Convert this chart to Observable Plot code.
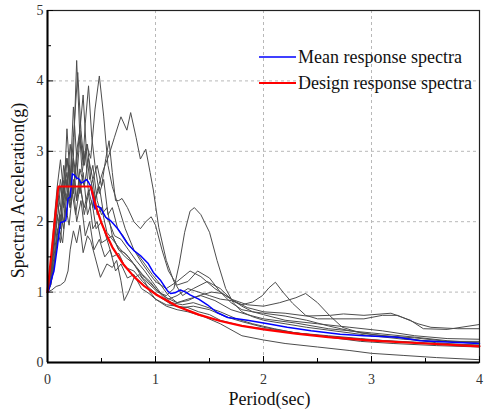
<!DOCTYPE html>
<html>
<head>
<meta charset="utf-8">
<script src="https://cdn.jsdelivr.net/npm/d3@7"></script>
<script src="https://cdn.jsdelivr.net/npm/@observablehq/plot@0.6"></script>
<style>
  body { margin: 0; background: #fff; }
  #wrap { position: relative; width: 484px; height: 411px; font-family: "Liberation Serif", "Times New Roman", serif; }
  .leg { position: absolute; left: 259px; height: 26px; display: flex; align-items: center; font-size: 18px; color: #111; white-space: nowrap; }
  .leg svg { margin-right: 2px; }
</style>
</head>
<body>
<div id="wrap"></div>
<script>
// Ground-motion records: [period (s), spectral acceleration (g)]
const rec1 = [[0,1.0],[0.03,1.3],[0.06,1.9],[0.09,2.4],[0.12,2.2],[0.15,2.8],[0.18,2.5],[0.21,3.1],[0.235,2.7],[0.27,4.29],[0.3,3.2],[0.32,2.7],[0.35,3.0],[0.38,2.4],[0.42,2.6],[0.46,2.1],[0.5,2.2],[0.55,1.85],[0.6,1.75],[0.68,1.6],[0.75,1.5],[0.82,1.35],[0.9,1.2],[1.0,1.05],[1.1,0.92],[1.2,0.85],[1.3,0.9],[1.42,0.95],[1.55,0.88],[1.7,0.75],[1.85,0.68],[2.0,0.62],[2.3,0.56],[2.6,0.48],[3.0,0.42],[3.4,0.36],[3.7,0.31],[4.0,0.28]];
const rec2 = [[0,1.0],[0.03,1.15],[0.06,1.6],[0.09,2.1],[0.12,1.9],[0.15,2.5],[0.18,2.3],[0.2,2.8],[0.23,2.4],[0.26,2.7],[0.3,3.3],[0.33,2.8],[0.36,3.1],[0.4,2.9],[0.44,3.6],[0.48,4.07],[0.52,3.5],[0.56,2.8],[0.6,2.5],[0.66,2.2],[0.72,1.9],[0.8,1.6],[0.88,1.4],[0.95,1.25],[1.0,1.15],[1.1,1.05],[1.2,1.15],[1.32,1.3],[1.42,1.22],[1.55,1.05],[1.7,0.9],[1.85,0.82],[2.0,0.8],[2.15,0.85],[2.3,0.92],[2.39,0.98],[2.5,0.85],[2.61,0.67],[2.73,0.5],[2.9,0.42],[3.1,0.38],[3.4,0.35],[3.7,0.3],[4.0,0.27]];
const rec3 = [[0,1.0],[0.04,1.2],[0.08,1.6],[0.11,1.9],[0.14,1.7],[0.17,2.2],[0.2,1.95],[0.23,2.4],[0.26,2.1],[0.3,2.5],[0.34,2.2],[0.38,2.45],[0.42,2.2],[0.47,2.5],[0.52,2.75],[0.57,2.95],[0.62,3.2],[0.68,3.49],[0.735,3.3],[0.77,3.55],[0.82,3.2],[0.86,2.89],[0.91,3.03],[0.95,2.7],[0.98,2.45],[1.03,1.92],[1.1,1.45],[1.17,1.15],[1.25,0.95],[1.35,1.05],[1.48,1.15],[1.6,1.05],[1.7,0.9],[1.8,0.8],[1.9,0.72],[2.0,0.68],[2.2,0.6],[2.5,0.55],[2.8,0.5],[3.1,0.45],[3.4,0.38],[3.7,0.34],[4.0,0.33]];
const rec4 = [[0,1.0],[0.03,1.1],[0.06,1.35],[0.09,1.8],[0.12,2.1],[0.15,1.9],[0.18,2.4],[0.21,2.2],[0.24,2.6],[0.27,2.3],[0.3,2.75],[0.34,2.5],[0.38,2.9],[0.42,2.6],[0.46,2.8],[0.5,2.5],[0.54,2.9],[0.57,3.15],[0.6,2.7],[0.63,2.3],[0.66,2.3],[0.69,2.33],[0.74,2.2],[0.8,2.0],[0.86,1.9],[0.91,2.0],[0.96,2.07],[1.0,1.95],[1.06,1.6],[1.12,1.3],[1.2,1.1],[1.3,1.15],[1.39,1.3],[1.5,1.2],[1.6,1.0],[1.7,0.85],[1.8,0.75],[1.9,0.72],[2.0,0.7],[2.2,0.66],[2.4,0.6],[2.6,0.52],[2.8,0.45],[3.0,0.4],[3.3,0.35],[3.6,0.28],[4.0,0.24]];
const rec5 = [[0,1.0],[0.03,1.2],[0.06,1.7],[0.09,2.0],[0.12,2.5],[0.15,2.2],[0.18,2.9],[0.21,2.6],[0.24,3.63],[0.27,2.9],[0.3,2.4],[0.33,2.7],[0.37,2.1],[0.41,2.3],[0.45,1.9],[0.5,2.0],[0.55,1.75],[0.6,1.8],[0.66,1.6],[0.72,1.5],[0.8,1.4],[0.88,1.2],[0.95,1.1],[1.02,1.0],[1.1,0.95],[1.17,1.05],[1.22,1.4],[1.27,1.85],[1.32,2.15],[1.36,2.2],[1.42,2.1],[1.5,1.85],[1.57,1.45],[1.65,1.05],[1.72,0.85],[1.8,0.72],[1.9,0.65],[2.0,0.6],[2.2,0.55],[2.4,0.5],[2.7,0.44],[3.0,0.38],[3.3,0.33],[3.6,0.3],[4.0,0.3]];
const rec6 = [[0,1.0],[0.03,1.25],[0.06,1.75],[0.09,2.3],[0.12,2.0],[0.15,2.6],[0.18,2.9],[0.21,2.5],[0.24,3.2],[0.28,4.12],[0.31,3.3],[0.34,2.8],[0.37,3.1],[0.4,2.6],[0.44,2.3],[0.48,2.5],[0.52,2.1],[0.57,2.0],[0.62,1.8],[0.68,1.75],[0.75,1.6],[0.82,1.45],[0.9,1.3],[0.97,1.15],[1.05,0.98],[1.12,0.9],[1.2,0.95],[1.3,1.05],[1.4,1.0],[1.5,0.95],[1.6,0.9],[1.7,0.88],[1.8,0.82],[1.9,0.86],[1.99,0.95],[2.05,1.06],[2.11,1.14],[2.18,1.0],[2.27,0.84],[2.39,0.67],[2.5,0.62],[2.62,0.62],[2.93,0.62],[3.1,0.67],[3.24,0.67],[3.43,0.55],[3.55,0.5],[3.8,0.48],[4.0,0.48]];
const rec7 = [[0,1.0],[0.03,1.1],[0.06,1.4],[0.09,1.8],[0.12,2.2],[0.15,2.0],[0.18,2.6],[0.21,2.3],[0.24,2.9],[0.27,2.6],[0.3,3.2],[0.33,2.9],[0.35,3.4],[0.38,3.93],[0.41,3.2],[0.44,2.8],[0.48,2.4],[0.52,2.6],[0.56,2.1],[0.6,2.2],[0.65,1.9],[0.7,1.8],[0.76,1.65],[0.83,1.55],[0.9,1.4],[0.97,1.25],[1.05,1.1],[1.12,0.95],[1.2,0.85],[1.3,0.88],[1.4,0.95],[1.52,1.0],[1.62,0.98],[1.72,0.88],[1.85,0.78],[2.0,0.72],[2.2,0.7],[2.4,0.66],[2.62,0.67],[2.74,0.69],[2.93,0.67],[3.18,0.7],[3.36,0.6],[3.48,0.48],[3.7,0.47],[4.0,0.54]];
const rec8 = [[0,1.0],[0.03,1.15],[0.06,1.5],[0.09,1.9],[0.12,1.7],[0.15,2.3],[0.18,2.1],[0.21,2.7],[0.24,2.4],[0.27,3.0],[0.3,3.3],[0.33,3.8],[0.36,3.0],[0.39,2.6],[0.42,2.8],[0.46,2.3],[0.5,2.1],[0.55,2.2],[0.6,1.8],[0.66,1.6],[0.72,1.55],[0.8,1.4],[0.88,1.25],[0.95,1.15],[1.0,1.05],[1.08,0.92],[1.15,0.85],[1.25,0.82],[1.35,0.85],[1.45,0.8],[1.6,0.72],[1.75,0.62],[1.9,0.55],[2.1,0.48],[2.3,0.42],[2.6,0.38],[2.9,0.34],[3.2,0.3],[3.5,0.27],[3.8,0.25],[4.0,0.23]];
const rec9 = [[0,1.0],[0.03,1.4],[0.06,2.0],[0.09,2.5],[0.12,2.88],[0.15,2.4],[0.18,2.7],[0.21,2.2],[0.24,2.5],[0.27,2.0],[0.31,2.3],[0.35,1.8],[0.39,2.0],[0.43,1.6],[0.48,1.75],[0.53,1.5],[0.58,1.6],[0.63,1.3],[0.68,1.4],[0.74,1.2],[0.8,1.25],[0.87,1.05],[0.94,0.98],[1.0,0.9],[1.1,0.8],[1.2,0.75],[1.3,0.72],[1.45,0.65],[1.6,0.55],[1.8,0.38],[2.0,0.32],[2.2,0.27],[2.5,0.22],[2.8,0.17],[3.0,0.13],[3.3,0.1],[3.6,0.07],[4.0,0.04]];
const rec10 = [[0,1.0],[0.04,1.03],[0.08,1.08],[0.12,1.1],[0.16,1.15],[0.19,1.3],[0.21,1.6],[0.24,1.87],[0.27,1.7],[0.3,1.95],[0.33,1.56],[0.37,1.8],[0.4,1.73],[0.44,1.5],[0.49,1.21],[0.55,1.4],[0.6,1.35],[0.64,1.45],[0.68,1.16],[0.71,0.88],[0.75,1.0],[0.8,1.2],[0.85,1.25],[0.9,1.15],[0.95,1.0],[1.0,0.9],[1.1,0.82],[1.2,0.8],[1.3,0.78],[1.4,0.72],[1.5,0.68],[1.6,0.6],[1.8,0.52],[2.0,0.48],[2.3,0.42],[2.6,0.36],[2.9,0.3],[3.2,0.27],[3.6,0.24],[4.0,0.22]];
const rec11 = [[0,1.0],[0.03,1.3],[0.06,1.8],[0.09,2.2],[0.12,2.6],[0.15,2.3],[0.18,3.32],[0.21,2.6],[0.24,2.9],[0.27,2.3],[0.3,2.6],[0.34,2.1],[0.38,2.4],[0.42,1.9],[0.46,2.0],[0.5,1.7],[0.55,1.75],[0.6,1.5],[0.66,1.55],[0.72,1.35],[0.8,1.3],[0.88,1.15],[0.95,1.05],[1.05,0.92],[1.15,0.82],[1.25,0.78],[1.35,0.8],[1.5,0.75],[1.65,0.65],[1.8,0.58],[2.0,0.5],[2.3,0.42],[2.6,0.37],[3.0,0.32],[3.4,0.29],[3.7,0.26],[4.0,0.25]];

// Mean response spectrum
const meanSpectrum = [[0,1.0],[0.01,1.02],[0.04,1.2],[0.06,1.3],[0.09,1.63],[0.12,1.99],[0.15,2.0],[0.17,2.02],[0.19,2.33],[0.21,2.35],[0.23,2.68],[0.25,2.66],[0.27,2.62],[0.29,2.61],[0.31,2.55],[0.33,2.56],[0.36,2.6],[0.38,2.56],[0.4,2.5],[0.42,2.35],[0.44,2.18],[0.46,2.22],[0.49,2.2],[0.54,2.06],[0.58,2.02],[0.61,1.97],[0.65,1.9],[0.68,1.83],[0.74,1.69],[0.8,1.59],[0.86,1.52],[0.93,1.41],[0.98,1.28],[1.05,1.16],[1.11,1.02],[1.14,0.98],[1.18,0.99],[1.23,1.03],[1.28,1.0],[1.32,0.96],[1.4,0.9],[1.48,0.82],[1.57,0.71],[1.67,0.64],[1.85,0.6],[2.04,0.55],[2.22,0.5],[2.44,0.45],[2.71,0.4],[2.93,0.38],[3.24,0.36],[3.45,0.31],[3.7,0.29],[4.0,0.27]];

// Design response spectrum
const designSpectrum = [[0,1.0],[0.1,2.5],[0.4,2.5],[0.45,2.21],[0.5,1.98],[0.55,1.8],[0.6,1.64],[0.7,1.4],[0.8,1.22],[0.9,1.08],[1.0,0.97],[1.2,0.8],[1.4,0.68],[1.6,0.59],[1.8,0.52],[2.0,0.47],[2.3,0.41],[2.6,0.36],[3.0,0.31],[3.5,0.27],[4.0,0.23]];

const xTicks = [0, 1, 2, 3, 4];
const xMinorTicks = [0.5, 1.5, 2.5, 3.5];
const yTicks = [0, 1, 2, 3, 4, 5];
const yMinorTicks = [0.5, 1.5, 2.5, 3.5, 4.5];
const xGrid = [1, 2, 3];
const yGrid = [1, 2, 3, 4];

const records = [rec1, rec2, rec3, rec4, rec5, rec6, rec7, rec8, rec9, rec10, rec11];
const recordRows = records.flatMap((r, i) => r.map(([T, v]) => ({id: i, T, v})));
const toRows = arr => arr.map(([T, v]) => ({T, v}));

const font = "Liberation Serif";
const intFmt = d => String(d);
const chart = Plot.plot({
  width: 484,
  height: 411,
  marginLeft: 47,
  marginRight: 5,
  marginTop: 10,
  marginBottom: 49,
  style: {fontFamily: font, background: "#fff"},
  x: {domain: [0, 4]},
  y: {domain: [0, 5]},
  marks: [
    Plot.gridX(xGrid, {stroke: "#b8b8b8", strokeOpacity: 1, strokeDasharray: "3,3"}),
    Plot.gridY(yGrid, {stroke: "#b8b8b8", strokeOpacity: 1, strokeDasharray: "3,3"}),
    Plot.line(recordRows, {x: "T", y: "v", z: "id", stroke: "#4d4d4d", strokeWidth: 1}),
    Plot.line(toRows(meanSpectrum), {x: "T", y: "v", stroke: "#0000ff", strokeWidth: 1.5}),
    Plot.line(toRows(designSpectrum), {x: "T", y: "v", stroke: "#ff0000", strokeWidth: 2.2}),
    Plot.frame({stroke: "#222", strokeWidth: 1.2}),
    Plot.ruleX([0], {stroke: "#000", strokeWidth: 2}),
    Plot.ruleY([0], {stroke: "#000", strokeWidth: 2}),
    // inward ticks
    Plot.axisX(xTicks, {tickSize: 6, dy: -6, tickFormat: () => "", label: null, stroke: "#000"}),
    Plot.axisX(xMinorTicks, {tickSize: 4, dy: -4, tickFormat: () => "", label: null, stroke: "#000"}),
    Plot.axisY(yTicks, {tickSize: 6, dx: 6, tickFormat: () => "", label: null, stroke: "#000"}),
    Plot.axisY(yMinorTicks, {tickSize: 4, dx: 4, tickFormat: () => "", label: null, stroke: "#000"}),
    // tick labels
    Plot.axisX(xTicks, {tickSize: 0, tickPadding: 12, tickFormat: intFmt, fontSize: 14, fontFamily: font, fill: "#333", label: null}),
    Plot.axisY(yTicks, {tickSize: 0, tickPadding: 4, tickFormat: intFmt, fontSize: 14, fontFamily: font, fill: "#333", label: null}),
    // axis titles
    Plot.text(["Period(sec)"], {frameAnchor: "bottom", dx: 6, dy: 37, lineAnchor: "middle", textAnchor: "middle", fontSize: 18, fontFamily: font, fill: "#111"}),
    Plot.text(["Spectral Acceleration(g)"], {frameAnchor: "left", dx: -29, dy: 4, rotate: -90, lineAnchor: "middle", textAnchor: "middle", fontSize: 18, fontFamily: font, fill: "#111"})
  ]
});

const wrap = document.getElementById("wrap");
wrap.appendChild(chart);

const legendItems = [
  {label: "Mean response spectra", color: "#0000ff", width: 1.5, top: 44},
  {label: "Design response spectra", color: "#ff0000", width: 2.2, top: 70}
];
for (const item of legendItems) {
  const row = document.createElement("div");
  row.className = "leg";
  row.style.top = item.top + "px";
  row.innerHTML = `<svg width="37" height="6"><line x1="0" y1="3" x2="37" y2="3" stroke="${item.color}" stroke-width="${item.width}"/></svg><span>${item.label}</span>`;
  wrap.appendChild(row);
}
</script>
</body>
</html>
